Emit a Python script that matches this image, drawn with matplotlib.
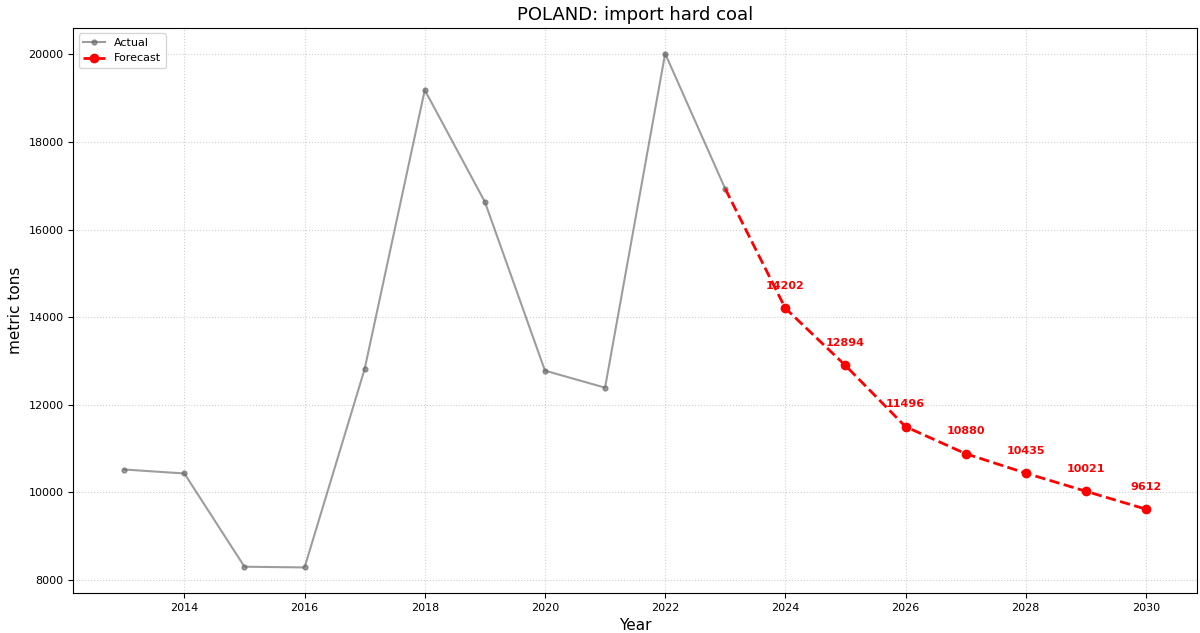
import matplotlib
matplotlib.use("Agg")
import matplotlib.pyplot as plt

years_actual = [2013, 2014, 2015, 2016, 2017, 2018, 2019, 2020, 2021, 2022, 2023]
values_actual = [10518, 10427, 8297, 8281, 12815, 19187, 16632, 12776, 12388, 20020, 16930]

years_forecast = [2023, 2024, 2025, 2026, 2027, 2028, 2029, 2030]
values_forecast = [16930, 14202, 12894, 11496, 10880, 10435, 10021, 9612]
label_years = years_forecast[1:]
label_values = values_forecast[1:]
xticks = [2014, 2016, 2018, 2020, 2022, 2024, 2026, 2028, 2030]

fig, ax = plt.subplots(figsize=(12, 6.33), dpi=100)
fig.subplots_adjust(left=0.061, right=0.9975, top=0.956, bottom=0.063)
ax.plot(years_actual, values_actual, color='dimgray', marker='o', markersize=3.5,
        linewidth=1.5, alpha=0.65, label='Actual')
ax.plot(years_forecast, values_forecast, color='red', linestyle='--', marker='o',
        markersize=6, linewidth=2, label='Forecast', markevery=list(range(1, len(years_forecast))))
for x, y in zip(label_years, label_values):
    ax.annotate(f"{y}", (x, y), textcoords='offset points', xytext=(0, 14),
                ha='center', color='red', fontsize=8, fontweight='bold')

ax.set_xticks(xticks)
ax.set_xticklabels([str(t) for t in xticks])
ax.set_title('POLAND: import hard coal', fontsize=13)
ax.set_xlabel('Year', fontsize=11)
ax.set_ylabel('metric tons', fontsize=11)
ax.grid(True, linestyle=':', alpha=0.6)
ax.legend(loc='upper left', fontsize=8)
ax.tick_params(labelsize=8)
fig.savefig('out.png')
